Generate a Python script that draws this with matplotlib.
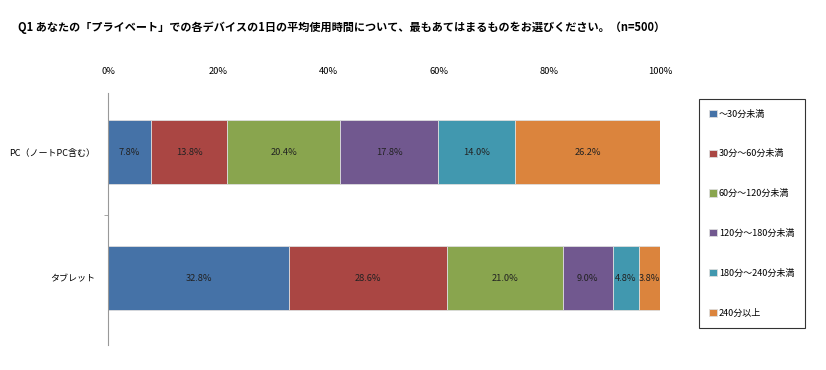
import numpy as np
import matplotlib.pyplot as plt

plt.rcParams['font.family'] = ['Noto Sans CJK JP', 'DejaVu Sans']

title = 'Q1 あなたの「プライベート」での各デバイスの1日の平均使用時間について、最もあてはまるものをお選びください。（n=500）'
devices = ['PC（ノートPC含む）', 'タブレット']
categories = ['～30分未満', '30分～60分未満', '60分～120分未満',
              '120分～180分未満', '180分～240分未満', '240分以上']
pc_vals = [7.8, 13.8, 20.4, 17.8, 14.0, 26.2]
tablet_vals = [32.8, 28.6, 21.0, 9.0, 4.8, 3.8]
colors = ['#4572A7', '#AA4643', '#89A54E', '#71588F', '#4198AF', '#DB843D']

vals = np.array([pc_vals, tablet_vals])

fig = plt.figure(figsize=(8.26, 3.70), dpi=100)
ax = fig.add_axes([108 / 826, 1 - 345 / 370, 552 / 826, 252 / 370])

y = np.arange(len(devices))
left = np.zeros(len(devices))
for i, cat in enumerate(categories):
    bars = ax.barh(y, vals[:, i], left=left, height=0.51, color=colors[i],
                   edgecolor='#dddddd', linewidth=0.6, label=cat)
    for j, b in enumerate(bars):
        ax.text(left[j] + vals[j, i] / 2, y[j], '%.1f%%' % vals[j, i],
                ha='center', va='center', fontsize=6.7, color='#222222')
    left += vals[:, i]

ax.set_xlim(0, 100)
ax.set_ylim(1.53, -0.47)
ax.xaxis.tick_top()
ax.set_xticks(np.arange(0, 101, 20))
ax.set_xticklabels(['%d%%' % v for v in range(0, 101, 20)], fontsize=6.7)
ax.tick_params(axis='x', length=0, pad=12)
ax.set_yticks(y)
ax.set_yticklabels(devices, fontsize=6.5)
ax.tick_params(axis='y', length=0, pad=9)
ax.set_yticks([0.5], minor=True)
ax.tick_params(axis='y', which='minor', length=3, color='#999999')
for s in ['top', 'right', 'bottom']:
    ax.spines[s].set_visible(False)
ax.spines['left'].set_color('#999999')

fig.text(18 / 826, 1 - 27 / 370, title, fontsize=8, fontweight='bold',
         va='center', ha='left')

leg = fig.legend(loc='upper left', bbox_to_anchor=(699 / 826, 1 - 99 / 370),
                 fontsize=6.5, frameon=True, fancybox=False, handlelength=0.85,
                 handleheight=0.85, handletextpad=0.2, labelspacing=3.4,
                 borderpad=1.15, borderaxespad=0)
leg.get_frame().set_edgecolor('black')
leg.get_frame().set_linewidth(0.8)

fig.savefig('out.png', dpi=100)
